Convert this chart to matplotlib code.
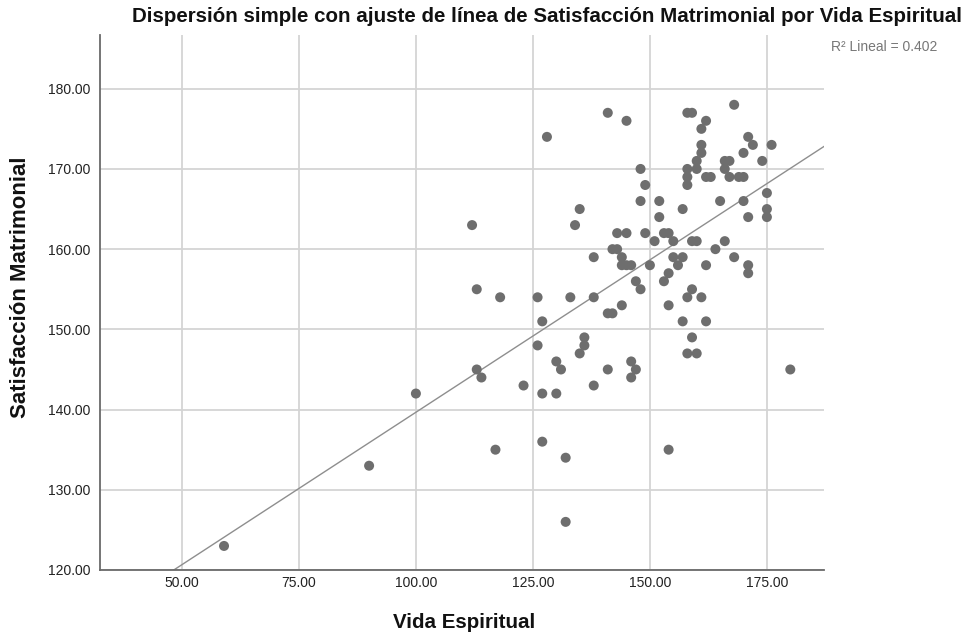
import numpy as np
import matplotlib
matplotlib.use("Agg")
import matplotlib.pyplot as plt
from matplotlib.ticker import FormatStrFormatter

plt.rcParams['font.family'] = ['Liberation Sans', 'DejaVu Sans']

vida_espiritual = [59, 90, 100, 112, 113, 113, 114, 117, 118, 123, 126, 126, 127, 127, 127, 128,
                   130, 130, 131, 132, 132, 133, 134, 135, 135, 136, 136, 138, 138, 138,
                   141, 141, 141, 142, 142, 143, 143, 144, 144, 144, 145, 145, 145, 146, 146, 146,
                   147, 147, 148, 148, 148, 149, 149, 150, 151, 152, 152, 153, 153, 154, 154, 154, 154,
                   155, 155, 156, 157, 157, 157, 158, 159, 158, 158, 158, 158, 158, 159, 159, 159, 160,
                   160, 160, 160, 161, 161, 161, 161, 162, 162, 162, 162, 163, 164, 165, 166, 166, 166,
                   167, 167, 168, 168, 169, 170, 170, 170, 171, 171, 171, 171, 172, 174, 175, 175, 175,
                   176, 180]
satisfaccion = [123, 133, 142, 163, 155, 145, 144, 135, 154, 143, 154, 148, 151, 142, 136, 174,
                146, 142, 145, 134, 126, 154, 163, 165, 147, 149, 148, 159, 154, 143,
                177, 152, 145, 152, 160, 160, 162, 159, 158, 153, 176, 162, 158, 158, 146, 144,
                156, 145, 155, 170, 166, 168, 162, 158, 161, 166, 164, 162, 156, 162, 157, 153, 135,
                161, 159, 158, 159, 165, 151, 177, 177, 170, 169, 168, 154, 147, 155, 149, 161, 161,
                171, 170, 147, 175, 173, 172, 154, 176, 169, 158, 151, 169, 160, 166, 171, 170, 161,
                171, 169, 178, 159, 169, 169, 172, 166, 174, 164, 158, 157, 173, 171, 167, 165, 164,
                173, 145]

x_ticks = [50, 75, 100, 125, 150, 175]
y_ticks = [120, 130, 140, 150, 160, 170, 180]
r2_label = "R\u00b2 Lineal = 0.402"

x = np.array(vida_espiritual, dtype=float)
y = np.array(satisfaccion, dtype=float)
slope, intercept = np.polyfit(x, y, 1)

fig = plt.figure(figsize=(9.72, 6.37), dpi=100)
ax = fig.add_axes([100/972, 1-570/637, (824-100)/972, (570-35)/637])

ax.set_xlim(32.5, 187.2)
ax.set_ylim(120, 186.7)
ax.set_xticks(x_ticks)
ax.set_yticks(y_ticks)
ax.xaxis.set_major_formatter(FormatStrFormatter('%.2f'))
ax.yaxis.set_major_formatter(FormatStrFormatter('%.2f'))
ax.grid(True, color='#d4d4d4', linewidth=1.3)
ax.set_axisbelow(True)
for s in ['top', 'right']:
    ax.spines[s].set_visible(False)
for s in ['left', 'bottom']:
    ax.spines[s].set_color('#6a6a6a')
    ax.spines[s].set_linewidth(1.3)
ax.tick_params(length=0, labelsize=10, colors='#222222')
ax.tick_params(axis='x', pad=4)
ax.tick_params(axis='y', pad=7)

xs = np.array(ax.get_xlim())
ax.plot(xs, intercept + slope * xs, color='#8e8e8e', linewidth=1.0, zorder=2)
ax.scatter(x, y, s=52, color='#6e6e6e', edgecolors='none', zorder=3)

fig.text(464/972, 1-622/637, 'Vida Espiritual', ha='center', va='center',
         fontsize=14.8, fontweight='bold', color='#111111')
fig.text(21/972, 1-287/637, 'Satisfacción Matrimonial', ha='center', va='center', rotation=90,
         fontsize=16, fontweight='bold', color='#111111')

fig.text(547/972, 1-16/637, 'Dispersión simple con ajuste de línea de Satisfacción Matrimonial por Vida Espiritual',
         ha='center', va='center', fontsize=14.8, fontweight='bold', color='#111111')
fig.text(937/972, 1-47/637, r2_label, ha='right', va='center', fontsize=10, color='#777777')

fig.savefig('out.png', dpi=100)
